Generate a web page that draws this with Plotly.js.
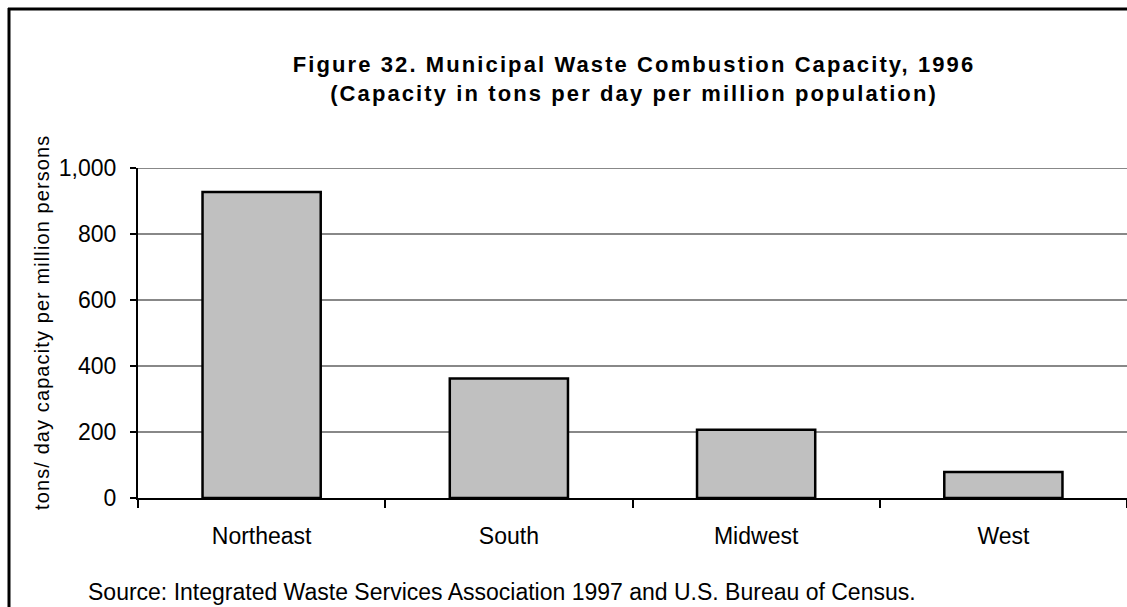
<!DOCTYPE html>
<html>
<head>
<meta charset="utf-8">
<script src="https://cdn.plot.ly/plotly-3.0.1.min.js"></script>
<style>
html,body{margin:0;padding:0;background:#fff;}
#chart{width:1127px;height:607px;}
.gtitle{letter-spacing:2.1px;}
.ytitle-ann text{letter-spacing:1.1px;}
</style>
</head>
<body>
<div id="chart"></div>
<script>
const regions = ["Northeast", "South", "Midwest", "West"];
const capacity = [927, 362, 207, 79];
const yTickVals = [0, 200, 400, 600, 800, 1000];
const yTickText = ["0", "200", "400", "600", "800", "1,000"];
const titleText = "Figure 32. Municipal Waste Combustion Capacity, 1996<br>(Capacity in tons per day per million population)";
const yTitle = "tons/ day capacity per million persons";
const sourceText = "Source: Integrated Waste Services Association 1997 and U.S. Bureau of Census.";

const W = 1127, H = 607;
const L = 138, R = 0, T = 168, B = 109;
const pw = W - L - R, ph = H - T - B;
const px = v => (v - L) / pw;
const py = v => (H - B - v) / ph;

const FONT = "Arial, 'Liberation Sans', sans-serif";

const trace = {
  type: "bar",
  x: regions,
  y: capacity,
  width: 0.478,
  marker: {color: "#c0c0c0", line: {color: "#000", width: 2.5}},
  hoverinfo: "x+y"
};

const layout = {
  width: W, height: H,
  margin: {l: L, r: R, t: T, b: B, pad: 0},
  paper_bgcolor: "#fff",
  plot_bgcolor: "#fff",
  showlegend: false,
  font: {family: FONT, color: "#000", size: 18},
  title: {
    text: titleText,
    font: {family: FONT, size: 22, weight: "bold", color: "#000"},
    x: 634 / W, xanchor: "center", xref: "container",
    y: 1 - 72 / H, yanchor: "top", yref: "container"
  },
  xaxis: {
    type: "category",
    showline: true, linecolor: "#000", linewidth: 2,
    ticks: "outside", tickson: "boundaries", ticklen: 8, tickwidth: 2, tickcolor: "#000",
    tickfont: {family: FONT, size: 23, color: "#000"},
    ticklabelstandoff: 16,
    showgrid: false, zeroline: false, fixedrange: true
  },
  yaxis: {
    range: [0, 1000],
    tickvals: yTickVals, ticktext: yTickText,
    showline: true, linecolor: "#000", linewidth: 2,
    ticks: "outside", ticklen: 6, tickwidth: 2, tickcolor: "#000",
    tickfont: {family: FONT, size: 23, color: "#000"},
    ticklabelstandoff: 9,
    showgrid: true, gridcolor: "#888", gridwidth: 2,
    zeroline: false, fixedrange: true
  },
  annotations: [
    {
      text: yTitle, textangle: -90,
      xref: "paper", yref: "paper",
      x: px(42), y: py(322), xanchor: "center", yanchor: "middle",
      showarrow: false, name: "ytitle",
      font: {family: FONT, size: 20, color: "#000"}
    },
    {
      text: sourceText,
      xref: "paper", yref: "paper",
      x: px(86), y: py(592), xanchor: "left", yanchor: "middle",
      showarrow: false,
      font: {family: FONT, size: 23, color: "#000"}
    }
  ],
  shapes: [
    {type: "line", xref: "paper", yref: "y", x0: 0, x1: 1, y0: yTickVals[yTickVals.length - 1], y1: yTickVals[yTickVals.length - 1], layer: "below", line: {color: "#888", width: 2}},
    {type: "line", xref: "paper", yref: "paper", x0: px(9), x1: px(9), y0: py(8), y1: py(H + 5), line: {color: "#000", width: 3}},
    {type: "line", xref: "paper", yref: "paper", x0: px(8), x1: px(W + 5), y0: py(9), y1: py(9), line: {color: "#000", width: 3}}
  ]
};

Plotly.newPlot("chart", [trace], layout, {displayModeBar: false, staticPlot: true}).then(() => {
  const anns = document.querySelectorAll(".annotation");
  if (anns[0]) anns[0].classList.add("ytitle-ann");
});
</script>
</body>
</html>
